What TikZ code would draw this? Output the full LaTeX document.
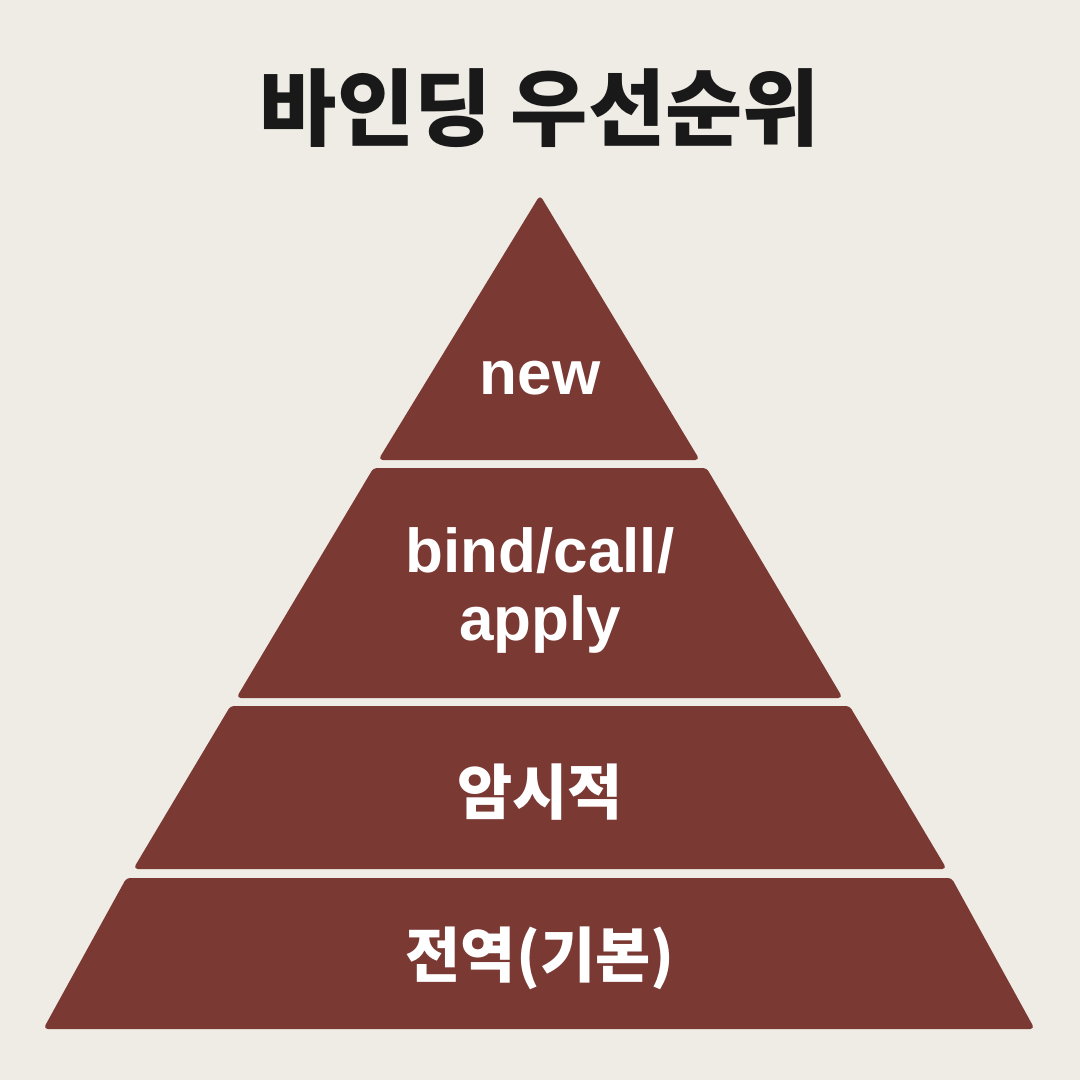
\documentclass[tikz,border=0pt]{standalone}
\usepackage{fontspec}
\setmainfont{Noto Sans CJK KR}
\newfontfamily\latinf{Liberation Sans}
\definecolor{bg}{HTML}{EFEBE5}
\definecolor{brick}{HTML}{7B3934}
\begin{document}
\begin{tikzpicture}[x=1pt,y=-1pt,
  tier/.style={fill=brick,draw=brick,line width=2pt,rounded corners=3pt},
  lbl/.style={text=white,font=\fontsize{60}{66}\selectfont\bfseries,align=center},
  lat/.style={text=white,font=\latinf\fontsize{62}{68}\selectfont\bfseries,align=center}]
\fill[bg] (0,0) rectangle (1080,1080);
\useasboundingbox (0,0) rectangle (1080,1080);
\node[font=\fontsize{84}{90}\selectfont\bfseries,text=black!90] (title) at (540,108) {바인딩 우선순위};
\draw[tier] (540,197) -- (698,459) -- (380,459) -- cycle;
\draw[tier] (374,469) -- (706,469) -- (841,697) -- (238,697) -- cycle;
\draw[tier] (231,707) -- (849,707) -- (945,868) -- (135,868) -- cycle;
\draw[tier] (127,879) -- (951,879) -- (1033,1028) -- (45,1028) -- cycle;
\node[lat] (t1) at (540,378) {new};
\node[lat] (t2) at (540,590) {bind/call/\\apply};
\node[lbl] (t3) at (540,792) {암시적};
\node[lbl] (t4) at (540,958) {전역(기본)};
\end{tikzpicture}
\end{document}
